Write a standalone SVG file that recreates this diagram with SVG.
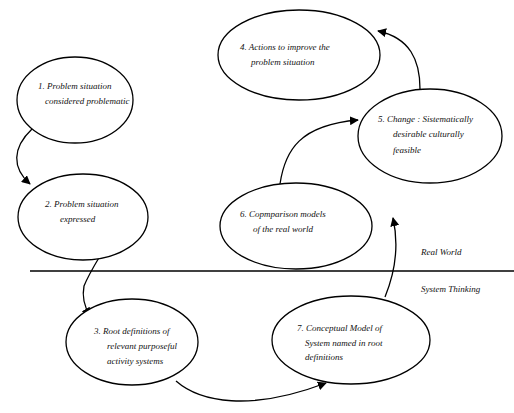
<svg xmlns="http://www.w3.org/2000/svg" width="514" height="413" viewBox="0 0 514 413">
<style>
.n{fill:#fff;stroke:#000;stroke-width:1.3}
.t{font-family:"Liberation Serif",serif;font-style:italic;font-size:9px;fill:#111}
.c{fill:none;stroke:#000;stroke-width:1.3;marker-end:url(#a)}
.p{fill:none;stroke:#000;stroke-width:1.3}
</style>
<defs>
<marker id="a" viewBox="0 0 10 10" refX="9" refY="5" markerWidth="9" markerHeight="9" markerUnits="userSpaceOnUse" orient="auto"><path d="M0,0 L10,5 L0,10 Z" fill="#000"/></marker>
</defs>
<rect width="514" height="413" fill="#fff"/>
<line class="p" x1="30" y1="271" x2="514" y2="271"/>
<g id="connectors">
<path class="c" d="M32,129 C12,148 12,168 30,184"/>
<path class="c" d="M100,256 C94,266 88,276 84,286 C82,296 84,306 90,316"/>
<path class="c" d="M176,381 C200,402 250,412 326,383"/>
<path class="c" d="M385,297 C396,270 399,245 393,218"/>
<path class="c" d="M280,184 C285,150 300,125 358,120"/>
<path class="c" d="M420,89 C420,60 410,38 378,31"/>
</g>
<g id="n1"><ellipse class="n" cx="75" cy="100" rx="58" ry="43"/>
<text class="t" x="38" y="89">1. Problem situation</text><text class="t" x="45" y="104">considered problematic</text></g>
<g id="n2"><ellipse class="n" cx="83" cy="217" rx="65" ry="43"/>
<text class="t" x="45" y="207">2. Problem situation</text><text class="t" x="60" y="222">expressed</text></g>
<g id="n3"><ellipse class="n" cx="132" cy="342" rx="66" ry="43"/>
<text class="t" x="94" y="334">3. Root definitions of</text><text class="t" x="107" y="349">relevant purposeful</text><text class="t" x="107" y="364">activity systems</text></g>
<g id="n7"><ellipse class="n" cx="351" cy="340" rx="79" ry="44"/>
<text class="t" x="297" y="331">7. Conceptual Model of</text><text class="t" x="305" y="346">System named in root</text><text class="t" x="305" y="360">definitions</text></g>
<g id="n6"><ellipse class="n" cx="296" cy="226" rx="76" ry="43"/>
<text class="t" x="240" y="217">6. Copmparison models</text><text class="t" x="253" y="232">of the real world</text></g>
<g id="n5"><ellipse class="n" cx="430" cy="136" rx="72" ry="47"/>
<text class="t" x="378" y="122">5. Change : Sistematically</text><text class="t" x="393" y="137">desirable culturally</text><text class="t" x="393" y="153">feasible</text></g>
<g id="n4"><ellipse class="n" cx="299" cy="55" rx="81" ry="45"/>
<text class="t" x="240" y="50">4. Actions to improve the</text><text class="t" x="251" y="65">problem situation</text></g>
<text class="t" x="421" y="255">Real World</text>
<text class="t" x="421" y="292">System Thinking</text>
</svg>
